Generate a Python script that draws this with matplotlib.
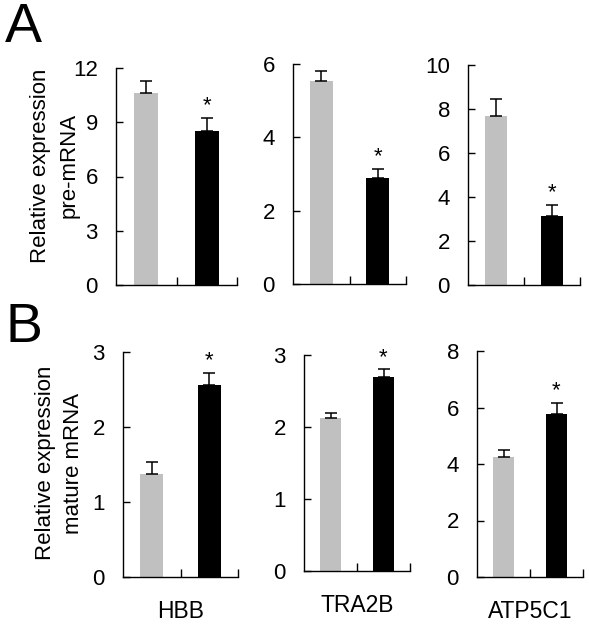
import matplotlib
matplotlib.use("Agg")
import matplotlib.pyplot as plt

plt.rcParams['font.family'] = ['Liberation Sans', 'DejaVu Sans']

# bar heights (grey = control, black = treated) and upper error
genes = ['HBB', 'TRA2B', 'ATP5C1']
pre_grey = [10.6, 5.53, 7.67]
pre_grey_err = [0.7, 0.27, 0.78]
pre_black = [8.5, 2.89, 3.15]
pre_black_err = [0.75, 0.25, 0.5]
pre_ymax = [12, 6, 10]
pre_ticks = [[0, 3, 6, 9, 12], [0, 2, 4, 6], [0, 2, 4, 6, 8, 10]]

mat_grey = [1.37, 2.12, 4.25]
mat_grey_err = [0.17, 0.08, 0.24]
mat_black = [2.56, 2.69, 5.77]
mat_black_err = [0.16, 0.11, 0.4]
mat_ymax = [3, 3, 8]
mat_ticks = [[0, 1, 2, 3], [0, 1, 2, 3], [0, 2, 4, 6, 8]]

W, H = 589, 626
fig = plt.figure(figsize=(W / 100, H / 100), dpi=100)

# axes boxes in pixels: left, right, top, bottom
boxes_a = [(116, 237, 68, 285), (293, 406, 64, 284), (468, 580, 65, 285)]
boxes_b = [(123, 238, 352, 577), (304, 410, 355, 571), (477, 583, 351, 577)]


def make_ax(box):
    l, r, t, b = box
    return fig.add_axes([l / W, 1 - b / H, (r - l) / W, (b - t) / H])


def draw(ax, g, ge, k, ke, ymax, ticks, xlabel=None):
    x = [0.5, 1.5]
    ax.bar(x, [g, k], width=0.4, color=['#c0c0c0', 'black'])
    ax.errorbar(x, [g, k], yerr=[[0, 0], [ge, ke]], fmt='none',
                ecolor='black', elinewidth=1.1, capsize=4.5, capthick=1.1)
    ax.annotate('*', (1.5, k + ke), xytext=(0, 1), textcoords='offset points',
                ha='center', va='bottom', fontsize=16)
    ax.set_xlim(0, 2)
    ax.set_ylim(0, ymax)
    ax.set_yticks(ticks)
    ax.set_xticks([1, 2])
    ax.set_xticklabels([])
    ax.spines['top'].set_visible(False)
    ax.spines['right'].set_visible(False)
    for s in ['left', 'bottom']:
        ax.spines[s].set_linewidth(1.0)
    ax.tick_params(axis='y', direction='in', length=5, width=1.0,
                   labelsize=16, pad=13)
    ax.tick_params(axis='x', direction='in', length=6, width=1.0)
    if xlabel:
        ax.set_xlabel(xlabel, fontsize=16.5, labelpad=13)


for i in range(3):
    ax = make_ax(boxes_a[i])
    draw(ax, pre_grey[i], pre_grey_err[i], pre_black[i], pre_black_err[i],
         pre_ymax[i], pre_ticks[i])
    ax = make_ax(boxes_b[i])
    draw(ax, mat_grey[i], mat_grey_err[i], mat_black[i], mat_black_err[i],
         mat_ymax[i], mat_ticks[i], genes[i])

fig.text(0.0934, 0.7356, 'Relative expression\npre-mRNA', rotation=90,
         ha='center', va='center', fontsize=16, linespacing=1.45,
         multialignment='center')
fig.text(0.101, 0.26, 'Relative expression\nmature mRNA', rotation=90,
         ha='center', va='center', fontsize=16, linespacing=1.45,
         multialignment='center')

fig.text(5 / W, 1 - 2 / H, 'A', fontsize=40, ha='left', va='top')
fig.text(5 / W, 1 - 302 / H, 'B', fontsize=40, ha='left', va='top')

fig.savefig('out.png', dpi=100)
